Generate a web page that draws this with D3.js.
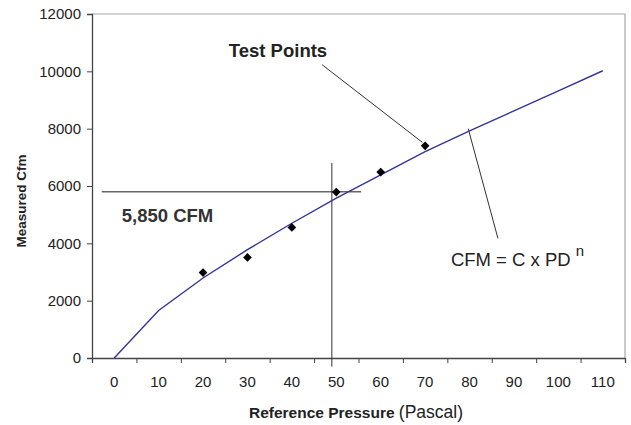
<!DOCTYPE html>
<html>
<head>
<meta charset="utf-8">
<script src="https://cdn.jsdelivr.net/npm/d3@7"></script>
<style>
  body { margin: 0; background: #fff; }
  svg { display: block; font-family: "Liberation Sans", Arial, sans-serif; }
</style>
</head>
<body>
<svg></svg>
<script>
// pressure categories (Pa) and fitted curve CFM = C x PD^n
const pressures = [0, 10, 20, 30, 40, 50, 60, 70, 80, 90, 100, 110]
const curveCfm = [0, 1660, 2790, 3780, 4700, 5580, 6390, 7200, 7925, 8620, 9320, 10020]

// measured test points
const testPressures = [20, 30, 40, 50, 60, 70]
const testCfm = [2980, 3510, 4555, 5790, 6485, 7400]

const yTicks = [0, 2000, 4000, 6000, 8000, 10000, 12000]

const W = 631, H = 425
const plotL = 92, plotR = 625, plotT = 14, plotB = 358

const svg = d3.select("svg")
  .attr("width", W)
  .attr("height", H)

// category axis: each pressure sits in the middle of a 10 Pa wide slot
const x = d3.scaleLinear().domain([-5, 115]).range([plotL, plotR])
const y = d3.scaleLinear().domain([0, 12000]).range([plotB, plotT])

// frame (top + right in light gray)
svg.append("path")
  .attr("d", `M${plotL},${plotT}H${plotR}V${plotB}`)
  .attr("fill", "none")
  .attr("stroke", "#a8a8a8")
  .attr("stroke-width", 1.2)

// y axis
const yAxis = svg.append("g")
  .attr("transform", `translate(${plotL},0)`)
  .call(d3.axisLeft(y).tickValues(yTicks).tickSize(5).tickPadding(6).tickFormat(d3.format("d")))
yAxis.select(".domain").attr("stroke", "#444").attr("stroke-width", 1.3)
yAxis.selectAll(".tick line").attr("stroke", "#444")
yAxis.selectAll("text")
  .attr("font-size", 15)
  .attr("font-family", "Liberation Sans, Arial, sans-serif")
  .attr("fill", "#222")

// x axis: ticks on slot boundaries, labels on slot centres
const xAxis = svg.append("g")
  .attr("transform", `translate(0,${plotB})`)
  .call(d3.axisBottom(x).tickValues(d3.range(-5, 116, 10)).tickSize(5).tickFormat(""))
xAxis.select(".domain").attr("stroke", "#444").attr("stroke-width", 1.3)
xAxis.selectAll(".tick line").attr("stroke", "#444")

svg.append("g")
  .selectAll("text")
  .data(pressures)
  .join("text")
  .attr("x", d => x(d))
  .attr("y", 387)
  .attr("text-anchor", "middle")
  .attr("font-size", 15)
  .attr("fill", "#222")
  .text(d => d)

// axis titles
svg.append("text")
  .attr("transform", `translate(26,201) rotate(-90)`)
  .attr("text-anchor", "middle")
  .attr("font-size", 13.5)
  .attr("font-weight", "bold")
  .attr("fill", "#222")
  .text("Measured Cfm")

const xt = svg.append("text")
  .attr("x", 356)
  .attr("y", 418)
  .attr("text-anchor", "middle")
  .attr("fill", "#222")
xt.append("tspan").attr("font-size", 15.5).attr("font-weight", "bold").text("Reference Pressure ")
xt.append("tspan").attr("font-size", 17.5).text("(Pascal)")

// annotation guides (data units)
const guide = svg.append("g").attr("fill", "none")
guide.append("line")
  .attr("x1", x(-2.8)).attr("x2", x(55.6))
  .attr("y1", y(5800)).attr("y2", y(5800))
  .attr("stroke", "#666").attr("stroke-width", 1.3)
guide.append("line")
  .attr("x1", x(49)).attr("x2", x(49))
  .attr("y1", y(6800)).attr("y2", y(-300))
  .attr("stroke", "#333").attr("stroke-width", 1)

// fitted curve
const line = d3.line()
  .x((d, i) => x(pressures[i]))
  .y(d => y(d))

svg.append("path")
  .datum(curveCfm)
  .attr("d", line)
  .attr("fill", "none")
  .attr("stroke", "#34349c")
  .attr("stroke-width", 1.4)

// test point diamonds
svg.append("g")
  .selectAll("path")
  .data(testCfm)
  .join("path")
  .attr("d", d3.symbol(d3.symbolSquare, 38))
  .attr("transform", (d, i) => `translate(${x(testPressures[i])},${y(d)}) rotate(45)`)
  .attr("fill", "#000")

// callouts
guide.append("line")
  .attr("x1", x(46.8)).attr("y1", y(10230))
  .attr("x2", x(69.4)).attr("y2", y(7520))
  .attr("stroke", "#333").attr("stroke-width", 1)
guide.append("line")
  .attr("x1", x(79.7)).attr("y1", y(8000))
  .attr("x2", x(86.4)).attr("y2", y(4170))
  .attr("stroke", "#333").attr("stroke-width", 1)

svg.append("text")
  .attr("x", x(25.8)).attr("y", y(10490))
  .attr("font-size", 18.5)
  .attr("font-weight", "bold")
  .attr("fill", "#222")
  .text("Test Points")

svg.append("text")
  .attr("x", x(1.7)).attr("y", y(4760))
  .attr("font-size", 18.5)
  .attr("font-weight", "bold")
  .attr("fill", "#333")
  .text("5,850 CFM")

const f = svg.append("text")
  .attr("x", x(75.8)).attr("y", y(3220))
  .attr("font-size", 18.5)
  .attr("fill", "#222")
f.append("tspan").text("CFM = C x PD ")
f.append("tspan").attr("font-size", 15).attr("dy", -10).text("n")
</script>
</body>
</html>
